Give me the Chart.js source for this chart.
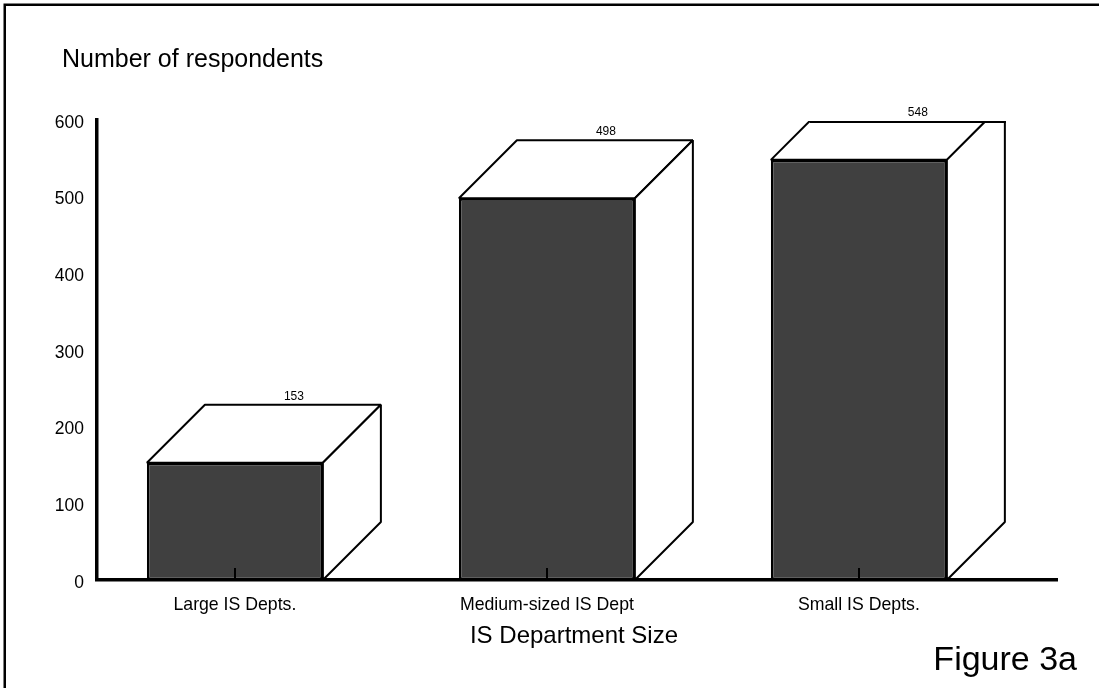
<!DOCTYPE html>
<html>
<head>
<meta charset="utf-8">
<title>IS Department Size</title>
<script src="https://cdn.jsdelivr.net/npm/chart.js@4/dist/chart.umd.min.js"></script>
<style>
  html, body { margin: 0; padding: 0; background: #fff; }
  #wrap { width: 1099px; height: 688px; position: relative; }
</style>
</head>
<body>
<div id="wrap"><canvas id="c" width="1099" height="688"></canvas></div>
<script>
// ---- data ----
const categories = ['Large IS Depts.', 'Medium-sized IS Dept', 'Small IS Depts.'];
const respondents = [153, 498, 548];
const yTicks = [0, 100, 200, 300, 400, 500, 600];
const yAxisTitle = 'Number of respondents';
const xAxisTitle = 'IS Department Size';
const figureLabel = 'Figure 3a';

// ---- styling ----
const FONT = '"Liberation Sans", Arial, Helvetica, sans-serif';
const DEPTH = 58;           // 3D depth of the boxes, px
const X_MIN = -0.442;       // room left of the first box
const X_MAX = 2.635;        // room right of the last box (holds the box depth)

const boxes3d = {
  id: 'boxes3d',
  beforeDraw(chart) {
    const ctx = chart.ctx;
    ctx.save();
    ctx.fillStyle = '#fff';
    ctx.fillRect(0, 0, chart.width, chart.height);
    // page frame (left and top edges)
    ctx.strokeStyle = '#000';
    ctx.lineWidth = 2.5;
    ctx.beginPath();
    ctx.moveTo(4.75, chart.height + 10);
    ctx.lineTo(4.75, 4.75);
    ctx.lineTo(chart.width + 10, 4.75);
    ctx.stroke();
    ctx.restore();
  },
  afterDatasetsDraw(chart) {
    const ctx = chart.ctx;
    const area = chart.chartArea;
    const xs = chart.scales.x;
    const clipTop = area.top + 1;
    const meta = chart.getDatasetMeta(0);

    ctx.save();
    ctx.beginPath();
    ctx.rect(0, clipTop, chart.width, chart.height);
    ctx.clip();
    ctx.fillStyle = '#fff';
    ctx.strokeStyle = '#000';
    ctx.lineWidth = 2;
    ctx.lineJoin = 'bevel';
    meta.data.forEach(bar => {
      const p = bar.getProps(['x', 'y', 'base', 'width'], true);
      const l = p.x - p.width / 2, r = p.x + p.width / 2;
      // top face
      ctx.beginPath();
      ctx.moveTo(l, p.y);
      ctx.lineTo(l + DEPTH, p.y - DEPTH);
      ctx.lineTo(r + DEPTH, p.y - DEPTH);
      ctx.lineTo(r, p.y);
      ctx.closePath();
      ctx.fill();
      ctx.stroke();
      // side face
      ctx.beginPath();
      ctx.moveTo(r, p.y);
      ctx.lineTo(r + DEPTH, p.y - DEPTH);
      ctx.lineTo(r + DEPTH, p.base - DEPTH);
      ctx.lineTo(r, p.base);
      ctx.closePath();
      ctx.fill();
      ctx.stroke();
      // edge where a tall box meets the top of the plot
      if (p.y - DEPTH < clipTop) {
        const cut = p.y - clipTop;
        ctx.beginPath();
        ctx.moveTo(l + cut, clipTop + 1);
        ctx.lineTo(r + DEPTH + 1, clipTop + 1);
        ctx.stroke();
      }
    });
    ctx.restore();

    // value labels above each box
    ctx.save();
    ctx.fillStyle = '#000';
    ctx.font = '12px ' + FONT;
    ctx.textAlign = 'center';
    ctx.textBaseline = 'alphabetic';
    meta.data.forEach((bar, i) => {
      const p = bar.getProps(['x', 'y'], true);
      const topEdge = Math.max(p.y - DEPTH, clipTop);
      ctx.fillText(String(respondents[i]), p.x + DEPTH + 1, topEdge - 5);
    });
    ctx.restore();

    // short inward tick marks at each category
    ctx.save();
    ctx.strokeStyle = '#000';
    ctx.lineWidth = 2;
    categories.forEach((c, i) => {
      const x = Math.round(xs.getPixelForValue(i));
      ctx.beginPath();
      ctx.moveTo(x, area.bottom - 12);
      ctx.lineTo(x, area.bottom);
      ctx.stroke();
    });
    ctx.restore();

    // titles
    ctx.save();
    ctx.fillStyle = '#000';
    ctx.textBaseline = 'alphabetic';
    ctx.font = '25px ' + FONT;
    ctx.textAlign = 'left';
    ctx.fillText(yAxisTitle, 62, 67);
    ctx.font = '24px ' + FONT;
    ctx.textAlign = 'center';
    ctx.fillText(xAxisTitle, (area.left + area.right) / 2 - 3, 643);
    ctx.font = '34px ' + FONT;
    ctx.textAlign = 'right';
    ctx.fillText(figureLabel, 1077, 670);
    ctx.restore();
  }
};

new Chart(document.getElementById('c'), {
  type: 'bar',
  data: {
    datasets: [{
      data: respondents.map((v, i) => ({ x: i, y: v })),
      backgroundColor: '#404040',
      borderColor: '#000',
      borderWidth: 2.5,
      borderSkipped: false,
      categoryPercentage: 1,
      barPercentage: 0.564
    }]
  },
  options: {
    responsive: false,
    animation: false,
    devicePixelRatio: 1,
    layout: { padding: { left: 30, right: 42, top: 120, bottom: 68 } },
    plugins: { legend: { display: false }, tooltip: { enabled: false }, title: { display: false } },
    scales: {
      x: {
        type: 'linear',
        offset: false,
        min: X_MIN,
        max: X_MAX,
        grid: { display: false, drawTicks: false, offset: false },
        border: { display: true, color: '#000', width: 3.5 },
        ticks: {
          color: '#000',
          font: { family: FONT, size: 17.7 },
          padding: 14,
          maxRotation: 0,
          autoSkip: false,
          callback: v => categories[v]
        },
        afterBuildTicks(scale) { scale.ticks = categories.map((c, i) => ({ value: i })); },
        afterFit(scale) { scale.height = 40; }
      },
      y: {
        min: 0,
        max: 600,
        grid: { display: false, drawTicks: false },
        border: { display: true, color: '#000', width: 3.5 },
        ticks: { color: '#000', font: { family: FONT, size: 17.5 }, padding: 13, labelOffset: 3 },
        afterBuildTicks(scale) { scale.ticks = yTicks.map(v => ({ value: v })); },
        afterFit(scale) { scale.width = 67; }
      }
    }
  },
  plugins: [boxes3d]
});
</script>
</body>
</html>
